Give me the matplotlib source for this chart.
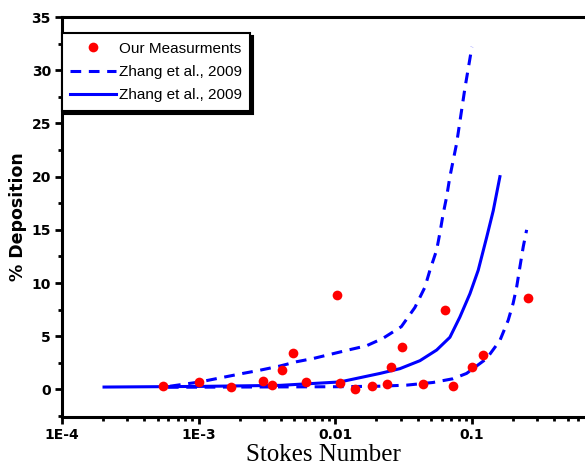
import matplotlib
matplotlib.use("Agg")
import matplotlib.pyplot as plt
from matplotlib.ticker import FixedLocator, LogLocator, MultipleLocator, NullFormatter

# measured points
meas_x = [5.5e-4, 1.0e-3, 1.72e-3, 2.95e-3, 3.43e-3, 4.05e-3, 4.87e-3, 6.1e-3,
          0.0102, 0.0108, 0.0139, 0.0185, 0.0238, 0.0254, 0.0306, 0.0438,
          0.0634, 0.0725, 0.0993, 0.1196, 0.256]
meas_y = [0.3, 0.7, 0.2, 0.8, 0.4, 1.85, 3.4, 0.7,
          8.84, 0.6, 0.0, 0.3, 0.54, 2.1, 4.0, 0.47,
          7.5, 0.28, 2.1, 3.2, 8.6]

# Zhang et al. 2009 - mean curve
zhang_x = [2.03e-4, 1.0e-3, 3.94e-3, 0.0108, 0.0179, 0.0212, 0.0297, 0.0416,
           0.0551, 0.0689, 0.0815, 0.0966, 0.111, 0.128, 0.143, 0.160]
zhang_y = [0.22, 0.28, 0.38, 0.7, 1.3, 1.5, 1.95, 2.7,
           3.7, 4.9, 6.8, 9.0, 11.2, 14.3, 16.8, 20.0]

# Zhang et al. 2009 - upper bound
upper_x = [6.17e-4, 1.02e-3, 1.6e-3, 2.1e-3, 2.8e-3, 3.94e-3, 5.2e-3, 6.86e-3,
           0.0124, 0.0169, 0.0223, 0.0304, 0.0382, 0.0452, 0.0492, 0.0551,
           0.0582, 0.0615, 0.0652, 0.0689, 0.0771, 0.0887, 0.0998]
upper_y = [0.3, 0.7, 1.2, 1.5, 1.8, 2.2, 2.6, 2.9,
           3.7, 4.1, 4.8, 5.9, 7.7, 9.6, 11.2, 13.1,
           14.7, 16.5, 18.1, 20.0, 23.1, 28.3, 32.2]

# Zhang et al. 2009 - lower bound
lower_x = [5.96e-4, 0.01, 0.0212, 0.0332, 0.0518, 0.0725, 0.0912, 0.128,
           0.160, 0.184, 0.200, 0.212, 0.224, 0.237, 0.251]
lower_y = [0.2, 0.25, 0.3, 0.4, 0.65, 1.0, 1.5, 2.9,
           4.6, 6.5, 8.1, 9.6, 11.5, 13.4, 15.0]

xtick_vals = [1e-4, 1e-3, 1e-2, 1e-1]
xtick_labels = ["1E-4", "1E-3", "0.01", "0.1"]

blue = "#0000ff"
red = "#ff0000"

fig = plt.figure(figsize=(5.85, 4.75), dpi=100)
ax = fig.add_axes([0.106, 0.122, 0.894, 0.842])

ax.plot(upper_x, upper_y, color=blue, lw=2.2, dashes=(3.5, 2.5))
ax.plot(lower_x, lower_y, color=blue, lw=2.2, dashes=(3.5, 2.5))
ax.plot(zhang_x, zhang_y, color=blue, lw=2.2)
ax.plot(meas_x, meas_y, "o", color=red, ms=7, mec="none", zorder=5)

ax.set_xscale("log")
ax.set_xlim(1e-4, 0.671)
ax.set_ylim(-2.6, 35)

ax.xaxis.set_major_locator(FixedLocator(xtick_vals))
ax.set_xticklabels(xtick_labels)
ax.xaxis.set_minor_locator(LogLocator(base=10, subs=range(2, 10)))
ax.xaxis.set_minor_formatter(NullFormatter())
ax.yaxis.set_major_locator(MultipleLocator(5))
ax.yaxis.set_minor_locator(MultipleLocator(2.5))

for s in ["left", "bottom", "top"]:
    ax.spines[s].set_linewidth(2.2)
ax.spines["right"].set_visible(False)

ax.tick_params(which="major", direction="out", length=5, width=2, pad=3,
               labelsize=10, top=False, right=False)
ax.tick_params(which="minor", direction="out", length=3, width=2,
               top=False, right=False)
for lab in ax.get_xticklabels() + ax.get_yticklabels():
    lab.set_fontweight("bold")
    lab.set_family("DejaVu Sans")

ax.set_ylabel("% Deposition", fontsize=12.5, fontweight="bold",
              family="DejaVu Sans", labelpad=3)
ax.set_xlabel("Stokes Number", fontsize=18, family="Liberation Serif", labelpad=1)

# legend handles
h_meas, = ax.plot([], [], "o", color=red, ms=7, mec="none")
h_dash, = ax.plot([], [], color=blue, lw=2.2, dashes=(3.5, 2.5))
h_solid, = ax.plot([], [], color=blue, lw=2.2)
leg = ax.legend([h_meas, h_dash, h_solid],
                ["Our Measurments", "Zhang et al., 2009", "Zhang et al., 2009"],
                loc="upper left", bbox_to_anchor=(0.0, 0.96), fancybox=False,
                shadow={"color": "k", "alpha": 1}, framealpha=1, edgecolor="k",
                prop={"family": "Liberation Sans", "size": 11},
                handlelength=3.0, handletextpad=0.15, labelspacing=0.62,
                borderpad=0.55, borderaxespad=0, numpoints=1)
leg.get_frame().set_linewidth(1.5)

fig.savefig("out.png", dpi=100)
